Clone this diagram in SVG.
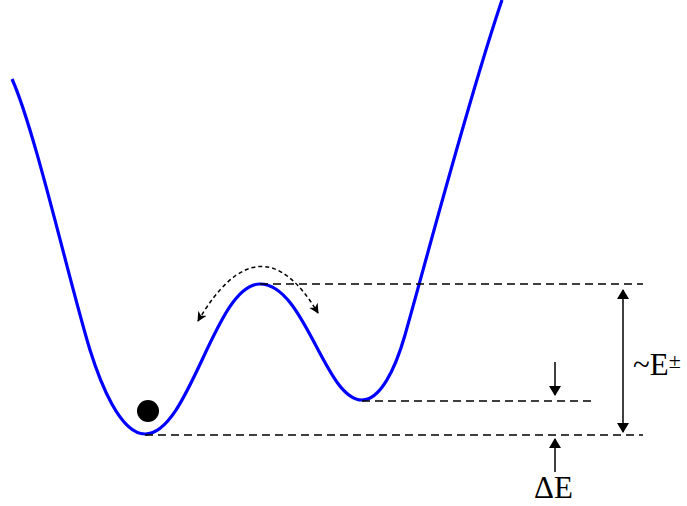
<svg xmlns="http://www.w3.org/2000/svg" width="687" height="506" viewBox="0 0 687 506">
<defs>
<marker id="ah" viewBox="0 0 10 10" refX="9" refY="5" markerWidth="10" markerHeight="10" markerUnits="userSpaceOnUse" orient="auto-start-reverse">
<path d="M0,0 L10,5 L0,10 L3,5 Z" fill="#000"/>
</marker>
<marker id="ab" viewBox="0 0 10 12" refX="9" refY="6" markerWidth="14" markerHeight="12" markerUnits="userSpaceOnUse" orient="auto-start-reverse">
<path d="M0,0 L10,6 L0,12 Z" fill="#000"/>
</marker>
</defs>
<style>
.dash{stroke:#000;stroke-width:1.5;stroke-dasharray:8,5;fill:none}
.ar{stroke:#000;stroke-width:1.5;fill:none}
.lbl{font-family:"Liberation Serif","Times New Roman",serif;font-size:31px;fill:#000}
</style>
<rect width="687" height="506" fill="#fff"/>
<g id="curve">
<path d="M12,79 C35,130 70,285 90,350 C100,382 120,434 145,434 C190,434 215,284 260,284 C305,284 325,400 362,400 C380,400 395,370 405,335 C425,265 468,100 502,0" stroke="#0000ff" stroke-width="3.2" fill="none"/>
</g>
<g id="ball"><circle cx="148" cy="411" r="11" fill="#000"/></g>
<g id="connectors">
<line class="dash" x1="260" y1="284" x2="643" y2="284"/>
<line class="dash" x1="362" y1="401" x2="595" y2="401"/>
<line class="dash" x1="145" y1="435" x2="643" y2="435"/>
<path class="ar" d="M198,321 Q260,216 318,313" stroke-dasharray="4,3" marker-start="url(#ah)" marker-end="url(#ah)"/>
<line class="ar" x1="623" y1="290" x2="623" y2="432" marker-start="url(#ab)" marker-end="url(#ab)"/>
<line class="ar" x1="555" y1="362" x2="555" y2="395" marker-end="url(#ab)"/>
<line class="ar" x1="555" y1="472" x2="555" y2="439" marker-end="url(#ab)"/>
</g>
<g id="labels">
<text class="lbl" x="633" y="375">~E<tspan font-size="22" dy="-7">±</tspan></text>
<text class="lbl" x="534" y="498">ΔE</text>
</g>
</svg>
